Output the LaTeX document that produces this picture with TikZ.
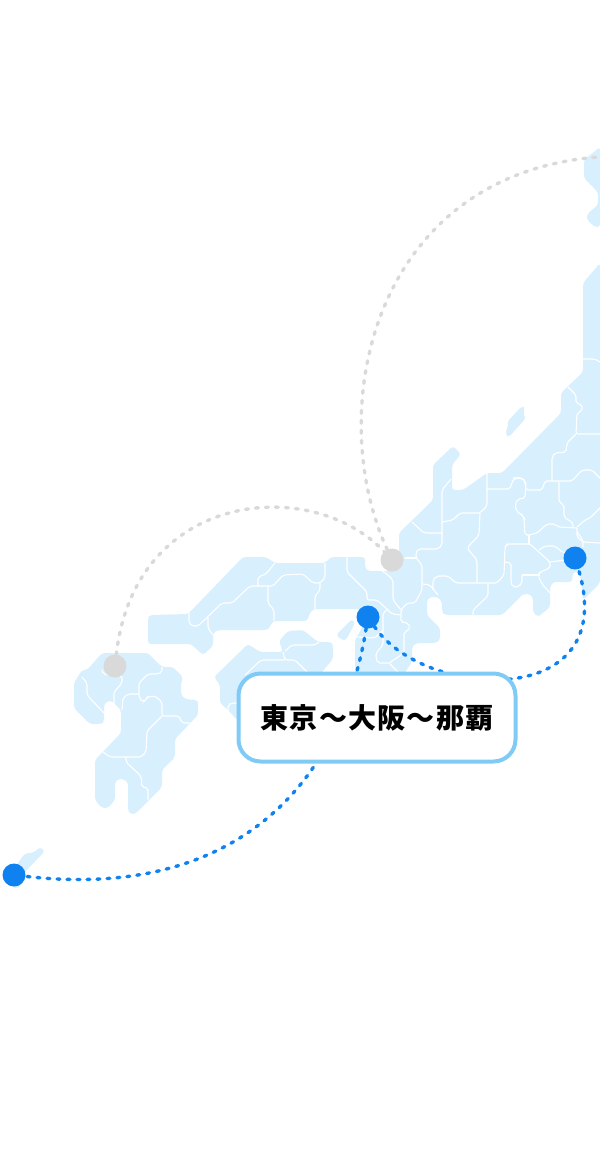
\documentclass[tikz,border=0pt]{standalone}
\usepackage{fontspec}
\newfontfamily\cjk[LetterSpace=4.5]{Noto Sans CJK JP}
\definecolor{landblue}{HTML}{D8EFFE}
\definecolor{routeblue}{HTML}{0F82F0}
\definecolor{routegray}{HTML}{D9D9D9}
\definecolor{boxblue}{HTML}{80CBF5}
\tikzstyle{land} = [fill=landblue, rounded corners=3pt]
\tikzstyle{border} = [draw=white, line width=1.1pt, rounded corners=2pt]
\tikzstyle{bluedot} = [circle, fill=routeblue, minimum size=23pt, inner sep=0pt, outer sep=0pt]
\tikzstyle{graydot} = [circle, fill=routegray, minimum size=23pt, inner sep=0pt, outer sep=0pt]
\tikzstyle{blueline} = [draw=routeblue, line width=3.4pt, line cap=round, dash pattern=on 2.8pt off 7.2pt]
\tikzstyle{grayline} = [draw=routegray, line width=3.4pt, line cap=round, dash pattern=on 2.8pt off 7.2pt]
\tikzstyle{routebox} = [rectangle, draw=boxblue, line width=4pt, fill=white, rounded corners=22pt, minimum width=277pt, minimum height=88pt, inner sep=0pt, outer sep=0pt]

\begin{document}
\begin{tikzpicture}[x=1pt, y=-1pt]
\useasboundingbox (0,0) rectangle (600,1160);
\fill [land] (600,147) -- (584,160) -- (584,178) -- (598,192) -- (598,205) -- (587,214) -- (587,220) -- (595,227) -- (600,227) -- cycle;
\fill [land] (522,406) -- (525,408) -- (523,415) -- (526,418) -- (509,437) -- (506,435) -- (506,429) -- (509,426) -- (507,422) -- cycle;
\fill [land] (352,619) -- (355,623) -- (346,640) -- (342,640) -- (336,635) -- cycle;
\fill [land] (600,263) -- (583,283) -- (583,372) -- (561,393) -- (561,413) -- (502,473) -- (487,473) -- (463,490) -- (452,490) -- (452,465) -- (461,454) -- (453,446) -- (433,465) -- (433,500) -- (399,533) -- (399,553) -- (392,571) -- (368,571) -- (365,568) -- (365,557) -- (331,557) -- (325,563) -- (275,563) -- (266,557) -- (243,557) -- (188,614) -- (150,615) -- (148,618) -- (148,644) -- (191,644) -- (203,655) -- (213,646) -- (213,633) -- (218,630) -- (268,630) -- (273,621) -- (307,621) -- (310,613) -- (313,609) -- (365,609) -- (362,628) -- (355,640) -- (355,680) -- (400,680) -- (412,662) -- (412,647) -- (416,643) -- (436,643) -- (440,640) -- (440,628) -- (427,615) -- (427,600) -- (430,597) -- (438,597) -- (442,602) -- (442,612) -- (445,615) -- (502,615) -- (523,594) -- (530,594) -- (533,598) -- (533,612) -- (538,617) -- (550,607) -- (550,587) -- (553,582) -- (572,582) -- (573,572) -- (580,572) -- (583,600) -- (600,583) -- cycle;
\fill [land] (248,644) -- (260,652) -- (283,652) -- (279,641) -- (288,631) -- (303,630) -- (318,642) -- (331,642) -- (333,645) -- (333,659) -- (322,672) -- (300,720) -- (237,720) -- (228,710) -- (220,703) -- (220,685) -- (214,677) -- cycle;
\fill [land] (82,670) -- (87,670) -- (102,653) -- (148,653) -- (162,667) -- (173,667) -- (183,677) -- (181,683) -- (181,695) -- (185,699) -- (197,700) -- (198,703) -- (198,715) -- (175,739) -- (175,757) -- (162,770) -- (162,787) -- (135,814) -- (130,814) -- (128,810) -- (128,782) -- (123,779) -- (118,779) -- (115,782) -- (115,800) -- (108,808) -- (102,808) -- (95,800) -- (95,760) -- (121,733) -- (121,710) -- (112,701) -- (107,701) -- (104,705) -- (104,722) -- (101,724) -- (90,724) -- (74,708) -- (74,683) -- cycle;
\fill [land] (22,857) -- (26,853) -- (33,853) -- (40,847) -- (45,851) -- (24,873) -- (22,885) -- (15,889) -- (10,880) -- (15,868) -- cycle;
\path [border] (583,359) -- (595,359) -- (600,362);
\path [border] (568,387) -- (576,395) -- (576,403) -- (582,405) -- (582,411) -- (577,413) -- (576,434) -- (600,434);
\path [border] (576,434) -- (567,443) -- (566,452) -- (555,453) -- (552,457) -- (552,481);
\path [border] (600,478) -- (592,470) -- (582,470) -- (572,481) -- (545,481) -- (542,490) -- (526,490) -- (525,482) -- (522,478) -- (515,478) -- (512,482) -- (510,489) -- (487,489);
\path [border] (487,473) -- (487,506) -- (480,513) -- (460,513) -- (453,520) -- (442,522);
\path [border] (480,513) -- (479,535) -- (467,548) -- (477,560) -- (477,583);
\path [border] (412,522) -- (424,533) -- (442,533);
\path [border] (451,479) -- (442,490) -- (442,545) -- (438,549) -- (418,549) -- (416,553) -- (416,558) -- (422,565) -- (422,590) -- (415,603) -- (407,603) -- (401,610) -- (401,622) -- (408,623) -- (410,627) -- (408,631) -- (404,632) -- (404,653) -- (389,663) -- (398,672);
\path [border] (405,558) -- (416,558);
\path [border] (423,584) -- (430,585) -- (438,595);
\path [border] (433,590) -- (433,580) -- (437,576) -- (448,576) -- (456,583) -- (497,583) -- (504,575) -- (505,547) -- (507,544) -- (530,544) -- (550,562) -- (550,568) -- (540,572) -- (538,575) -- (542,584) -- (550,593);
\path [border] (488,583) -- (488,596) -- (473,610) -- (473,615);
\path [border] (529,535) -- (529,544);
\path [border] (522,575) -- (540,575);
\path [border] (522,575) -- (522,583) -- (518,587) -- (513,587) -- (511,583) -- (511,563) -- (505,562);
\path [border] (539,550) -- (545,546) -- (555,546) -- (562,552) -- (570,553);
\path [border] (550,562) -- (565,560);
\path [border] (529,535) -- (525,535) -- (524,518) -- (522,515) -- (517,512) -- (515,505) -- (518,499) -- (525,498) -- (526,482) -- (522,478) -- (513,478);
\path [border] (529,535) -- (537,533) -- (547,524) -- (555,524) -- (558,527) -- (577,528);
\path [border] (559,482) -- (559,502) -- (564,505) -- (564,517) -- (573,523) -- (573,528);
\path [border] (577,527) -- (585,520) -- (590,518) -- (600,508);
\path [border] (577,528) -- (577,537) -- (583,542) -- (600,543);
\path [border] (577,532) -- (583,540) -- (583,547);
\path [border] (347,557) -- (347,572) -- (367,592) -- (367,600) -- (377,600) -- (388,610) -- (392,614) -- (401,615);
\path [border] (382,571) -- (387,574) -- (393,580) -- (393,600) -- (401,610);
\path [border] (388,609) -- (383,613) -- (383,645) -- (376,653) -- (376,658) -- (378,663) -- (389,663);
\path [border] (357,637) -- (375,638) -- (383,630);
\path [border] (275,563) -- (266,574) -- (258,577) -- (258,586);
\path [border] (189,611) -- (189,623) -- (192,626) -- (198,626) -- (222,603) -- (232,603) -- (250,586) -- (273,586) -- (283,575) -- (303,574) -- (313,583) -- (320,583) -- (325,578) -- (325,563);
\path [border] (268,586) -- (268,603) -- (274,610) -- (274,621);
\path [border] (320,583) -- (320,590) -- (315,596) -- (315,609);
\path [border] (208,617) -- (208,628) -- (213,635);
\path [border] (283,652) -- (285,660) -- (295,660) -- (307,672);
\path [border] (285,660) -- (261,660) -- (245,675);
\path [border] (285,651) -- (292,645) -- (315,645) -- (319,642);
\path [border] (228,720) -- (228,705) -- (232,703) -- (238,703);
\path [border] (82,677) -- (87,683) -- (87,695) -- (104,713);
\path [border] (102,670) -- (103,674) -- (122,676) -- (122,683) -- (114,692) -- (114,705);
\path [border] (162,667) -- (162,672) -- (158,674) -- (148,674) -- (139,683) -- (139,697) -- (143,702) -- (146,700) -- (147,697) -- (155,696) -- (162,702) -- (162,716) -- (179,716) -- (182,723) -- (190,723);
\path [border] (122,710) -- (123,698) -- (128,694) -- (139,694);
\path [border] (162,716) -- (147,731) -- (146,752) -- (141,757) -- (110,757) -- (103,752);
\path [border] (126,757) -- (126,762) -- (141,776) -- (142,787) -- (148,788) -- (148,800);
\coordinate (hokkaido) at (598,157);
\node [graydot] (kyoto) at (392,560) {};
\node [graydot] (fukuoka) at (115,666) {};
\node [bluedot] (tokyo) at (575,558) {};
\node [bluedot] (osaka) at (368,617) {};
\node [bluedot] (naha) at (14,875) {};
\path [grayline] (kyoto) .. controls (323,410) and (372,175) .. (hokkaido);
\path [grayline] (fukuoka) .. controls (135,490) and (312,475) .. (kyoto);
\path [blueline] (osaka) .. controls (424,700) and (622,712) .. (tokyo);
\path [blueline] (osaka) .. controls (340,790) and (230,900) .. (naha);
\node [routebox] (route) at (377,717.5) {\cjk\fontsize{28pt}{28pt}\selectfont\bfseries 東京〜大阪〜那覇};
\end{tikzpicture}
\end{document}
